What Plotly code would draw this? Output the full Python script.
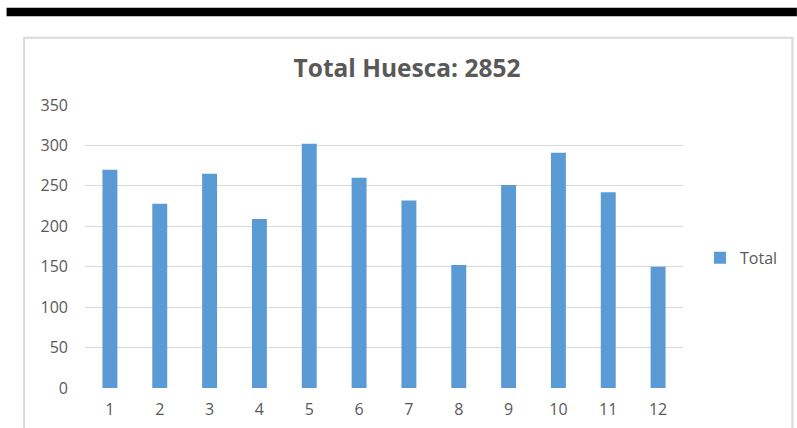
import plotly.graph_objects as go

categories = ["1", "2", "3", "4", "5", "6", "7", "8", "9", "10", "11", "12"]
totals = [270, 228, 265, 209, 302, 260, 232, 152, 251, 291, 242, 150]
title_text = "Total Huesca: 2852"
series_name = "Total"

W, H = 797, 428
# plot area in page pixels: x 84.5..683, y 105..388.5
L = 84.5
R = W - 683
T = 105
B = H - 388.5
pw, ph = W - L - R, H - T - B


def px(x):  # page pixel -> paper x
    return (x - L) / pw


def py(y):  # page pixel -> paper y
    return (H - B - y) / ph


fig = go.Figure()
fig.add_trace(go.Bar(
    x=categories, y=totals, name=series_name,
    marker=dict(color="#5B9BD5", line=dict(width=0)),
))

fig.update_layout(
    width=W, height=H,
    margin=dict(l=L, r=R, t=T, b=B, pad=0),
    paper_bgcolor="white", plot_bgcolor="white",
    font=dict(family="Open Sans", color="#595959", size=16),
    bargap=0.7,
    showlegend=True,
    legend=dict(x=px(700), y=py(258), xanchor="left", yanchor="middle",
                itemwidth=30,
                font=dict(size=16, color="#595959"), bgcolor="rgba(0,0,0,0)"),
    title=dict(text="<b>" + title_text + "</b>", xref="container",
               x=407 / W, xanchor="center",
               yref="container", y=1 - 68.5 / H, yanchor="middle",
               font=dict(family="Open Sans", size=24.5, color="#595959")),
    xaxis=dict(type="category", showgrid=False, showline=False, ticks="",
               ticklabelstandoff=10, automargin=False,
               tickfont=dict(size=16, color="#595959")),
    yaxis=dict(range=[0, 350], dtick=50, showgrid=True, gridcolor="#D9D9D9",
               gridwidth=1.3, zeroline=False, showline=False, ticks="",
               automargin=False,
               ticklabelstandoff=16, tickfont=dict(size=16, color="#595959")),
    shapes=[
        dict(type="rect", xref="paper", yref="paper",
             x0=px(6), x1=px(797), y0=py(16), y1=py(7.7),
             fillcolor="black", line=dict(width=0), layer="above"),
        dict(type="rect", xref="paper", yref="paper",
             x0=px(23.5), x1=px(792.5), y0=py(440), y1=py(37.7),
             fillcolor="rgba(0,0,0,0)", line=dict(color="#D9D9D9", width=2),
             layer="below"),
    ],
)

fig.write_html(
    "out.html",
    config={"displayModeBar": False},
    post_script="document.body.style.margin='0';document.body.style.overflow='hidden';",
)
